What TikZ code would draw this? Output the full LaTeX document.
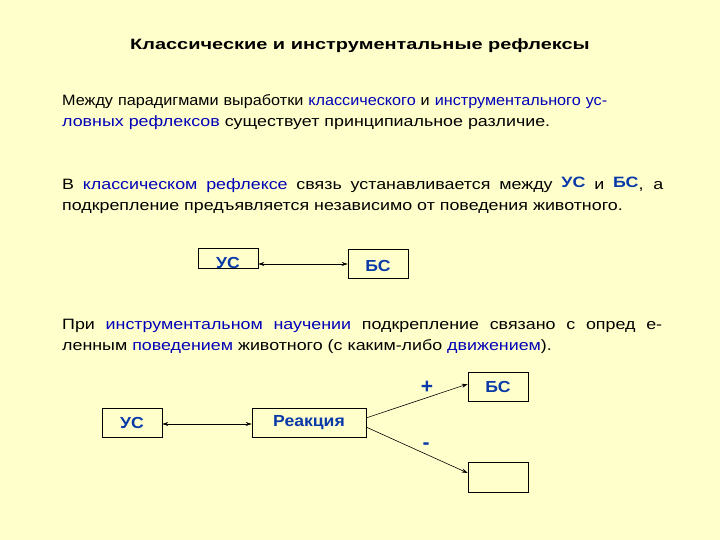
\documentclass[tikz,border=0pt]{standalone}
\usepackage{fontspec}
\setmainfont{Liberation Sans}
\newfontfamily\bodyfont[FakeStretch=1.19]{Liberation Sans}
\newfontfamily\bodyfontn[FakeStretch=1.08]{Liberation Sans}
\newfontfamily\titlefont[FakeStretch=1.33]{Liberation Sans}
\newfontfamily\labelfont[FakeStretch=1.1]{Liberation Sans}
\usetikzlibrary{arrows.meta}
\definecolor{bg}{HTML}{FFFFCC}
\definecolor{tblue}{HTML}{0000B8}
\definecolor{bblue}{HTML}{0A3AA8}
\newcommand{\bl}[1]{\textcolor{tblue}{#1}}
\newcommand{\bb}[1]{\textcolor{bblue}{\bfseries #1}}
\tikzset{
  body/.style={anchor=base west, inner sep=0pt, font=\bodyfont\fontsize{15}{18}\selectfont},
  bodyn/.style={anchor=base west, inner sep=0pt, font=\bodyfontn\fontsize{15}{18}\selectfont},
  boxn/.style={draw=black, line width=0.6pt, inner sep=0pt},
  blabel/.style={inner sep=0pt, font=\labelfont\fontsize{16}{18}\bfseries\selectfont, text=bblue},
  conn/.style={line width=0.6pt, -{Stealth[length=6pt,width=4pt]}},
  bconn/.style={line width=0.6pt, {Stealth[length=6pt,width=4pt]}-{Stealth[length=6pt,width=4pt]}}
}
\begin{document}
\begin{tikzpicture}[x=1pt,y=-1pt]
\fill[bg] (0,0) rectangle (720,540);
\useasboundingbox (0,0) rectangle (720,540);
\node[inner sep=0pt, anchor=base, font=\titlefont\fontsize{15}{18}\bfseries\selectfont] (title) at (360,50) {Классические и инструментальные рефлексы};

\node[bodyn] (p1a) at (62,106) {\makebox[545pt][s]{Между парадигмами выработки \bl{классического} и \bl{инструментального ус-}}};
\node[body] (p1b) at (62,127) {\bl{ловных рефлексов} существует принципиальное различие.};

\node[body] (p2a) at (62,190) {\makebox[601pt][s]{В \bl{классическом рефлексе} связь устанавливается между \raisebox{2pt}{\bb{УС}} и \raisebox{2pt}{\bb{БС}}, а}};
\node[body] (p2b) at (62,211) {подкрепление предъявляется независимо от поведения животного.};

\node[body] (p3a) at (62,329) {\makebox[600pt][s]{При \bl{инструментальном научении} подкрепление связано с опред е-}};
\node[body] (p3b) at (62,350) {ленным \bl{поведением} животного (с каким-либо \bl{движением}).};

% top diagram
\node[boxn, minimum width=60pt, minimum height=20pt] (us1) at (228,258) {};
\node[boxn, minimum width=60pt, minimum height=29pt] (bs1) at (378,263.5) {};
\node[blabel] (us1t) at (228,263) {УС};
\node[blabel] (bs1t) at (378,266) {БС};
\draw[bconn] (us1.east |- 0,264) -- (bs1.west |- 0,264);

% bottom diagram
\node[boxn, minimum width=60pt, minimum height=29pt] (us2) at (132,422.5) {};
\node[boxn, minimum width=114pt, minimum height=29pt] (re) at (309,422.5) {};
\node[boxn, minimum width=60pt, minimum height=29pt] (bs2) at (498,386.5) {};
\node[boxn, minimum width=60pt, minimum height=30pt] (em) at (498,477) {};
\node[blabel] at (us2) {УС};
\node[blabel] at (re) {Реакция};
\node[blabel] at (bs2) {БС};
\draw[bconn] (us2.east |- 0,424) -- (re.west |- 0,424);
\coordinate (r1) at (366,418);
\coordinate (r2) at (366,427);
\draw[conn] (r1) -- (bs2.west |- 0,384);
\draw[conn] (r2) -- (em.west |- 0,473);
\node[inner sep=0pt, text=bblue, font=\fontsize{21}{22}\bfseries\selectfont] (plus) at (427,387) {+};
\node[inner sep=0pt, text=bblue, font=\fontsize{21}{22}\bfseries\selectfont] (minus) at (426,446) {-};
\end{tikzpicture}
\end{document}
